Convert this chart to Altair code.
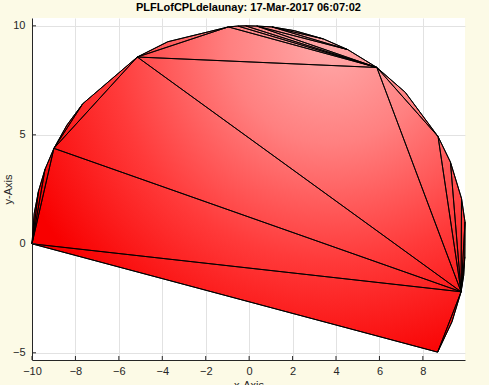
import altair as alt
import pandas as pd

# ---- data ----
vx = [-10.00, -9.90, -9.70, -9.40, -8.99, -8.39, -7.66, -5.15, -3.75, -0.96,
      -0.52, -0.17, 0.35, 1.05, 2.08, 3.42, 4.54, 5.88, 7.19, 8.70,
      9.27, 9.78, 9.94, 9.93, 9.88, 9.76, 9.34, 8.68]
vy = [0.00, 1.39, 2.42, 3.42, 4.38, 5.45, 6.43, 8.57, 9.27, 9.95,
      9.99, 10.00, 9.99, 9.95, 9.78, 9.40, 8.91, 8.09, 6.95, 4.92,
      3.75, 2.08, 1.00, -0.60, -1.45, -2.20, -3.58, -4.97]

tri_a = [0, 0, 0, 0, 0, 25, 4, 4, 4, 7, 7, 7, 9, 10, 11, 12, 12, 13, 13, 17, 17, 19, 20, 21, 22, 23]
tri_b = [1, 2, 3, 4, 25, 26, 5, 6, 7, 8, 9, 17, 10, 11, 12, 16, 13, 15, 14, 18, 19, 20, 21, 22, 23, 24]
tri_c = [2, 3, 4, 25, 27, 27, 6, 7, 25, 9, 17, 25, 17, 17, 17, 17, 16, 16, 15, 19, 25, 25, 25, 25, 25, 25]

x_ticks = [-10, -8, -6, -4, -2, 0, 2, 4, 6, 8]
y_ticks = [-5, 0, 5, 10]
x_domain = [-10, 9.94]
y_domain = [-5.33, 10.36]

title_text = "PLFLofCPLdelaunay: 17-Mar-2017 06:07:02"

W, H = 433, 342
FONT = "Liberation Sans"

# outline polygon (boundary vertices in order, closed)
outline = pd.DataFrame({
    "x": vx + [vx[0]],
    "y": vy + [vy[0]],
    "k": list(range(len(vx) + 1)),
})

rows = []
for t, (a, b, c) in enumerate(zip(tri_a, tri_b, tri_c)):
    for k, v in enumerate([a, b, c, a]):
        rows.append({"tri": t, "k": k, "x": vx[v], "y": vy[v]})
edges = pd.DataFrame(rows)

xs = alt.Scale(domain=x_domain, nice=False, zero=False)
ys = alt.Scale(domain=y_domain, nice=False, zero=False)

x_axis = alt.Axis(values=x_ticks, title="x-Axis", grid=True, ticks=False,
                  labelPadding=5, titleBaseline="top", titleY=19,
                  labelFlush=False)
y_axis = alt.Axis(values=y_ticks, title="y-Axis", grid=True, ticks=False,
                  labelPadding=7, titleBaseline="alphabetic", titleX=-21,
                  labelFlush=False)

grad = alt.RadialGradient(
    gradient="radial",
    stops=[
        alt.GradientStop(color="#ffaaaa", offset=0),
        alt.GradientStop(color="#ff8080", offset=0.3),
        alt.GradientStop(color="#ff3a3a", offset=0.65),
        alt.GradientStop(color="#f80000", offset=1),
    ],
    x1=0.69, y1=0.16, r1=0, x2=0.69, y2=0.16, r2=0.78,
)

fill_layer = alt.Chart(outline).mark_line(
    fill=grad, stroke="black", strokeWidth=1, interpolate="linear"
).encode(
    x=alt.X("x:Q", scale=xs, axis=x_axis),
    y=alt.Y("y:Q", scale=ys, axis=y_axis),
    order="k:Q",
)

edge_layer = alt.Chart(edges).mark_line(
    stroke="black", strokeWidth=0.9
).encode(
    x=alt.X("x:Q", scale=xs),
    y=alt.Y("y:Q", scale=ys),
    detail="tri:N",
    order="k:Q",
)

xt = pd.DataFrame({"v": x_ticks})
yt = pd.DataFrame({"v": y_ticks})
xtick_layer = alt.Chart(xt).mark_rule(color="#262626", strokeWidth=1).encode(
    x=alt.X("v:Q", scale=xs), y=alt.value(H), y2=alt.value(H - 4)
)
ytick_layer = alt.Chart(yt).mark_rule(color="#262626", strokeWidth=1).encode(
    y=alt.Y("v:Q", scale=ys), x=alt.value(0), x2=alt.value(4)
)

chart = alt.layer(fill_layer, edge_layer, xtick_layer, ytick_layer).properties(
    width=W, height=H,
    title=alt.TitleParams(title_text, font=FONT, fontSize=11, fontWeight="bold",
                          color="black", offset=5, anchor="middle"),
    autosize=alt.AutoSizeParams(type="none"),
    padding={"left": 32, "top": 18, "right": 24, "bottom": 25},
    background="#fcfae6",
).configure_view(
    fill="white", stroke=None
).configure_axis(
    labelFont=FONT, labelFontSize=11, labelColor="#262626",
    titleFont=FONT, titleFontSize=11, titleColor="#262626", titleFontWeight="normal",
    domainColor="#262626", domainWidth=1,
    gridColor="#e2e2e2", gridWidth=1,
)

chart.save("out.html", embed_options={"renderer": "svg", "actions": False})
